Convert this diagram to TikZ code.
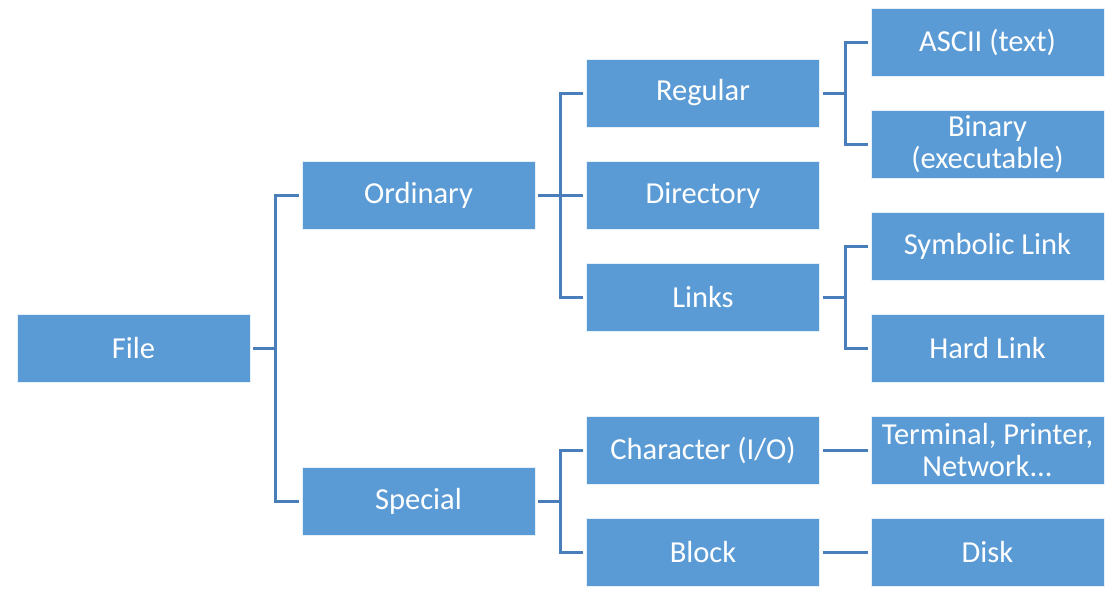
\documentclass[tikz,border=0pt]{standalone}
\usepackage{fontspec}
\setmainfont{Carlito}
\definecolor{boxblue}{HTML}{5B9BD5}
\definecolor{lineblue}{HTML}{4A7EBB}
\begin{document}
\begin{tikzpicture}[x=1pt,y=-1pt,
  box/.style={rectangle, fill=boxblue, draw=white!85!boxblue, line width=0.8pt,
    minimum width=233pt, minimum height=68pt, inner sep=0pt, align=center,
    text=white, font=\fontsize{30.5}{32}\selectfont},
  conn/.style={draw=lineblue, line width=3pt},
  both/.style={conn, shorten <=3pt, shorten >=3pt},
  fromBox/.style={conn, shorten <=3pt}]
\useasboundingbox (0,0) rectangle (1116,600);
\node[box] (file) at (133.5,348) {File};
\node[box] (ord) at (418.5,195) {Ordinary};
\node[box] (spe) at (418.5,501) {Special};
\node[box] (reg) at (703,93) {Regular};
\node[box] (dir) at (703,195) {Directory};
\node[box] (lnk) at (703,297) {Links};
\node[box] (chr) at (703,450) {Character (I/O)};
\node[box] (blk) at (703,552) {Block};
\node[box] (asc) at (987.5,42) {ASCII (text)};
\node[box] (bin) at (987.5,144) {Binary\\(executable)};
\node[box] (sym) at (987.5,246) {Symbolic Link};
\node[box] (hrd) at (987.5,348) {Hard Link};
\node[box] (ter) at (987.5,450) {Terminal, Printer,\\Network{.}{.}{.}};
\node[box] (dsk) at (987.5,552) {Disk};
\coordinate (j1) at (275,348);
\coordinate (j2) at (560,195);
\coordinate (j3) at (560,501);
\coordinate (j4) at (845.5,93);
\coordinate (j5) at (845.5,297);
\draw[fromBox] (file.east) -- (j1);
\draw[both] (ord.west) -| (j1) |- (spe.west);
\draw[both] (ord.east) -- (dir.west);
\draw[both] (reg.west) -| (j2) |- (lnk.west);
\draw[fromBox] (spe.east) -- (j3);
\draw[both] (chr.west) -| (j3) |- (blk.west);
\draw[fromBox] (reg.east) -- (j4);
\draw[both] (asc.west) -| (j4) |- (bin.west);
\draw[fromBox] (lnk.east) -- (j5);
\draw[both] (sym.west) -| (j5) |- (hrd.west);
\draw[both] (chr.east) -- (ter.west);
\draw[both] (blk.east) -- (dsk.west);
\end{tikzpicture}
\end{document}
